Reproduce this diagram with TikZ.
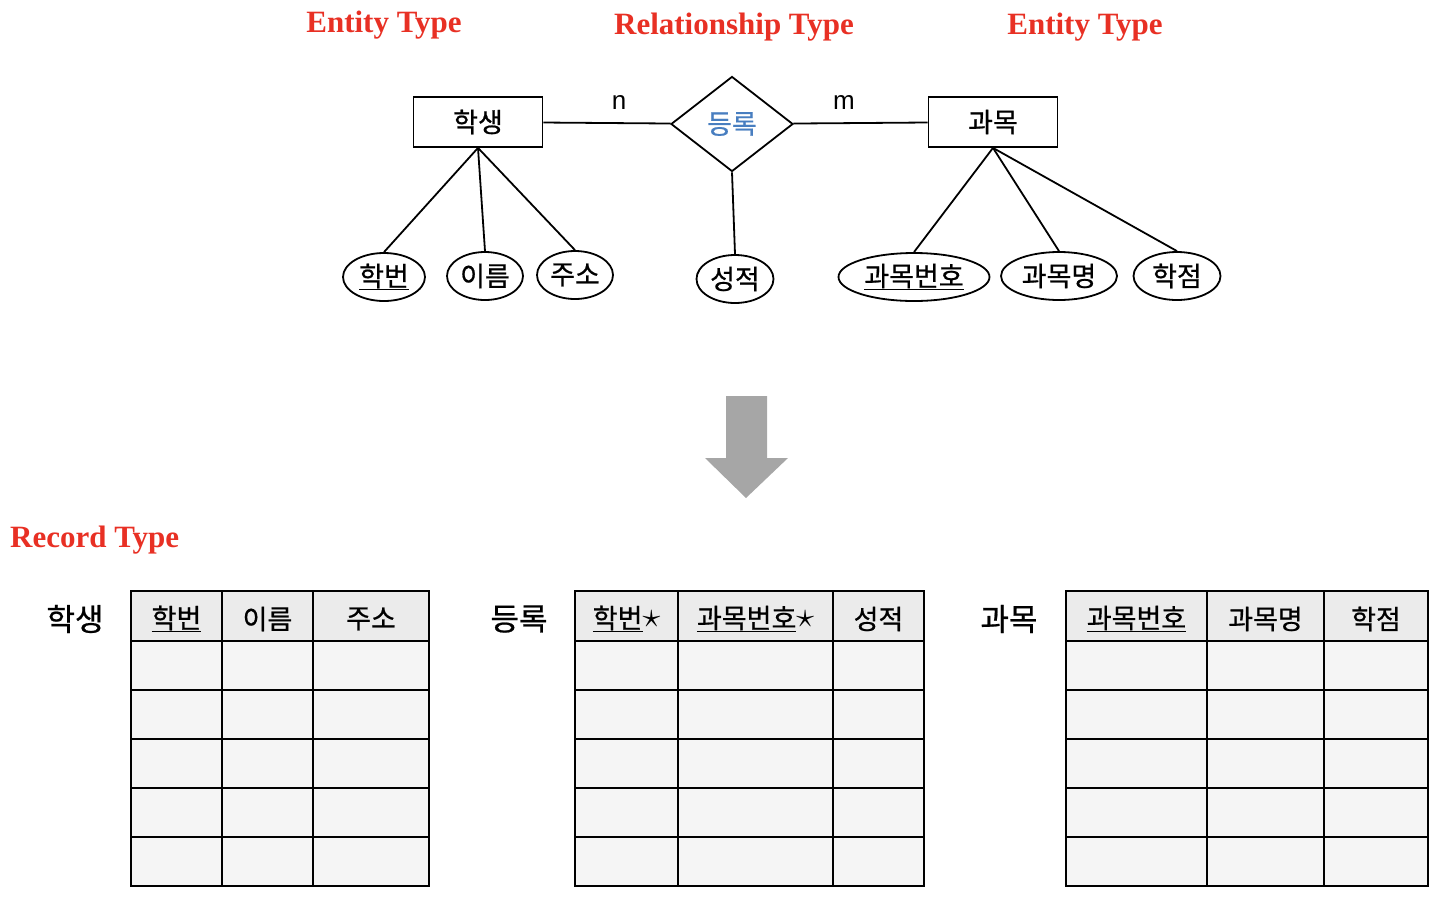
\documentclass[tikz,border=0pt]{standalone}
\usepackage{fontspec}
\setmainfont{Liberation Serif}
\newfontfamily\kor{Noto Sans CJK KR}[RawFeature={embolden=0.7}]
\newfontfamily\lsans{Liberation Sans}
\usetikzlibrary{shapes,calc}
\definecolor{titlered}{RGB}{232,48,36}
\definecolor{relblue}{RGB}{72,126,192}
\definecolor{arrowgray}{RGB}{166,166,166}
\definecolor{headgray}{RGB}{235,235,235}
\definecolor{cellgray}{RGB}{245,245,245}
\newcommand{\korsize}{\kor\fontsize{27}{30}\selectfont}
\newcommand{\fkstar}{\raisebox{1pt}{\scalebox{1.45}{$\star$}}}

\begin{document}
\begin{tikzpicture}[x=1pt,y=-1pt]
\tikzstyle{title}=[font=\fontsize{31}{34}\selectfont\bfseries, text=titlered, inner sep=0pt]
\tikzstyle{ent}=[rectangle, draw=black, line width=1.8pt, minimum width=129pt, minimum height=50pt, inner sep=0pt, font=\korsize]
\tikzstyle{rel}=[diamond, draw=black, line width=1.8pt, minimum width=122pt, minimum height=95pt, inner sep=0pt, font=\korsize, text=relblue]
\tikzstyle{attr}=[ellipse, draw=black, line width=1.8pt, minimum height=48pt, inner sep=0pt, font=\korsize]
\tikzstyle{connect}=[line width=1.8pt]
\tikzstyle{card}=[font=\lsans\fontsize{26}{28}\selectfont, inner sep=0pt]
\tikzstyle{tname}=[font=\kor\fontsize{31}{34}\selectfont, inner sep=0pt]
\tikzstyle{hcell}=[font=\korsize, inner sep=0pt]
\tikzstyle{grid}=[line width=2.2pt]

\useasboundingbox (0,0) rectangle (1450,908);

% titles
\node[title] (ent1) at (384,25) {Entity Type};
\node[title] (relt) at (734,27) {Relationship Type};
\node[title] (ent2) at (1085,27) {Entity Type};
\node[title, anchor=west] (rect) at (10,540) {Record Type};

% ER diagram
\node[ent] (student) at (478,122) {\raisebox{-3pt}{학생}};
\node[rel] (enroll)  at (732,124) {\raisebox{-3pt}{등록}};
\node[ent] (course)  at (993,122) {\raisebox{-3pt}{과목}};

\node[attr, minimum width=82pt]  (sid)    at (384,277) {\raisebox{-3pt}{\underline{학번}}};
\node[attr, minimum width=76pt]  (sname)  at (485,276) {\raisebox{-3pt}{이름}};
\node[attr, minimum width=76pt]  (saddr)  at (575,275) {\raisebox{-3pt}{주소}};
\node[attr, minimum width=77pt]  (grade)  at (735,279) {\raisebox{-3pt}{성적}};
\node[attr, minimum width=151pt] (cid)    at (914,277) {\raisebox{-3pt}{\underline{과목번호}}};
\node[attr, minimum width=116pt] (cname)  at (1059,276) {\raisebox{-3pt}{과목명}};
\node[attr, minimum width=87pt]  (credit) at (1177,276) {\raisebox{-3pt}{학점}};

\path (student) edge [connect] (enroll);
\path (enroll)  edge [connect] (course);
\node[card] (n) at (619,103) {n};
\node[card] (m) at (844,103) {m};

\path (student.south) edge [connect] (sid.north);
\path (student.south) edge [connect] (sname.north);
\path (student.south) edge [connect] (saddr.north);
\path (enroll.south)  edge [connect] (grade.north);
\path (course.south)  edge [connect] (cid.north);
\path (course.south)  edge [connect] (cname.north);
\path (course.south)  edge [connect] (credit.north);

% mapping arrow
\fill[arrowgray] (726,396) -- (767,396) -- (767,458) -- (788,458) -- (746,498)
  -- (705,458) -- (726,458) -- cycle;

% record types
\node[tname] (tstudent) at (75,619)   {학생};
\node[tname] (tenroll)  at (519,619)  {등록};
\node[tname] (tcourse)  at (1009,619) {과목};

\fill[headgray] (131,591) rectangle (429,641);
\fill[cellgray] (131,641) rectangle (429,886);
\foreach \y in {641,690,739,788,837} \draw[grid] (131,\y) -- (429,\y);
\foreach \x in {222,313} \draw[grid] (\x,591) -- (\x,886);
\draw[grid] (131,591) rectangle (429,886);
\node[hcell] (h11) at (176.5,619) {\underline{학번}};
\node[hcell] (h12) at (267.5,619) {이름};
\node[hcell] (h13) at (371,619)   {주소};

\fill[headgray] (575,591) rectangle (924,641);
\fill[cellgray] (575,641) rectangle (924,886);
\foreach \y in {641,690,739,788,837} \draw[grid] (575,\y) -- (924,\y);
\foreach \x in {678,833} \draw[grid] (\x,591) -- (\x,886);
\draw[grid] (575,591) rectangle (924,886);
\node[hcell] (h21) at (626.5,619) {\underline{학번}\fkstar};
\node[hcell] (h22) at (755.5,619) {\underline{과목번호}\fkstar};
\node[hcell] (h23) at (878.5,619) {성적};

\fill[headgray] (1066,591) rectangle (1428,641);
\fill[cellgray] (1066,641) rectangle (1428,886);
\foreach \y in {641,690,739,788,837} \draw[grid] (1066,\y) -- (1428,\y);
\foreach \x in {1207,1324} \draw[grid] (\x,591) -- (\x,886);
\draw[grid] (1066,591) rectangle (1428,886);
\node[hcell] (h31) at (1136.5,619) {\underline{과목번호}};
\node[hcell] (h32) at (1265.5,619) {과목명};
\node[hcell] (h33) at (1376,619)   {학점};

\end{tikzpicture}
\end{document}
